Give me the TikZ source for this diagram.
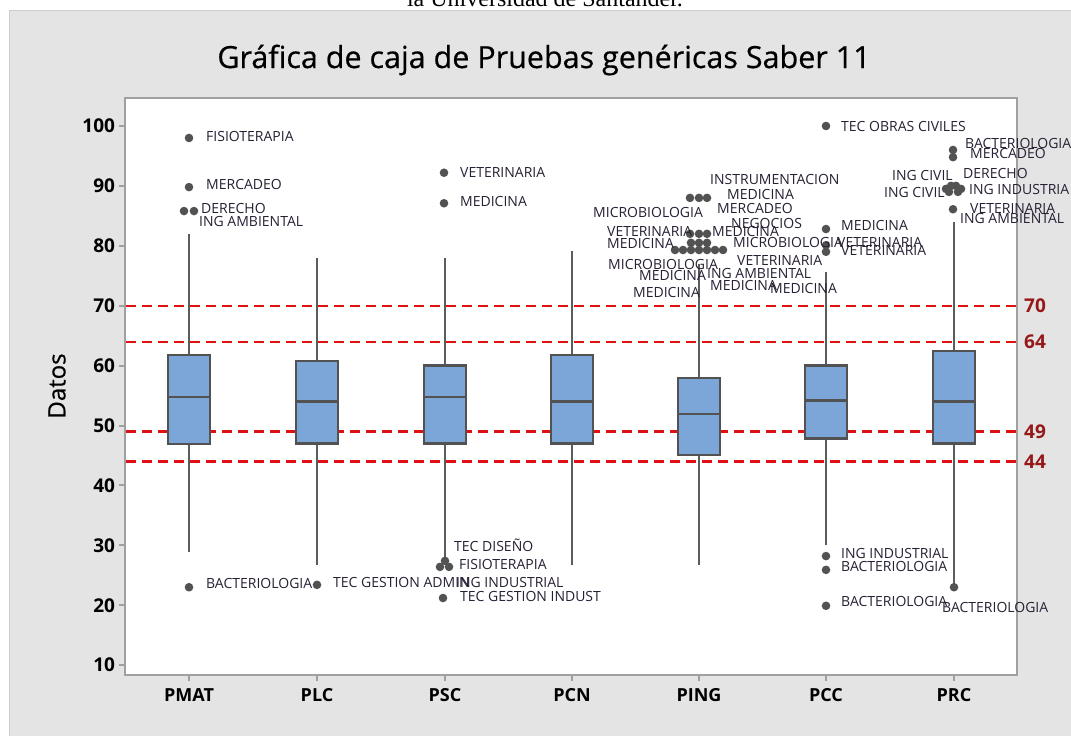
\documentclass[tikz,border=0pt]{standalone}
\usepackage{fontspec}
\setmainfont{Open Sans}
\newfontfamily\headserif{Liberation Serif}
\newfontfamily\heavysans{Open Sans}[FakeBold=0.5]
\usepackage{tikz}
\usetikzlibrary{
  backgrounds,  % Predefined layer named "background"
}
% Colours
\definecolor{panelgray}{RGB}{228,228,228}
\definecolor{panelline}{RGB}{206,206,206}
\definecolor{framegray}{RGB}{160,160,160}
\definecolor{boxblue}{RGB}{124,166,216}
\definecolor{boxline}{RGB}{82,82,82}
\definecolor{whiskgray}{RGB}{92,92,92}
\definecolor{refred}{RGB}{222,16,16}
\definecolor{reftext}{RGB}{150,24,24}
\definecolor{labtext}{RGB}{40,32,52}
\def\mybw{21}     % half width of a box
\def\mydot{4.3pt} % radius of an outlier dot
\newcommand{\labsize}{\fontsize{14}{15}\selectfont}
\tikzset{
  panel/.style={
    fill=panelgray,
    draw=panelline,
    line width=1pt
  },
  frame/.style={
    fill=white,
    draw=framegray,
    line width=2pt
  },
  caption/.style={
    anchor=base,
    inner sep=0pt,
    font=\headserif\fontsize{24}{24}\selectfont
  },
  title/.style={
    inner sep=0pt,
    font=\heavysans\fontsize{30.5}{32}\selectfont
  },
  axtitle/.style={
    rotate=90,
    inner sep=0pt,
    font=\heavysans\fontsize{24}{25}\selectfont
  },
  tick/.style={
    draw=framegray,
    line width=2pt
  },
  ticklab/.style={
    anchor=east,
    inner sep=3pt,
    font=\fontsize{19}{20}\selectfont\bfseries
  },
  catlab/.style={
    inner sep=0pt,
    font=\fontsize{18}{20}\selectfont\bfseries
  },
  refline/.style={
    draw=refred,
    line width=2.2pt,
    dash pattern=on 10pt off 6pt
  },
  reflab/.style={
    anchor=west,
    inner sep=0pt,
    text=reftext,
    font=\fontsize{19}{20}\selectfont\bfseries
  },
  whisk/.style={
    draw=whiskgray,
    line width=2pt
  },
  qbox/.style={
    fill=boxblue,
    draw=boxline,
    line width=2.5pt
  },
  odot/.style={
    fill=boxline
  },
  olab/.style={
    anchor=west,
    inner sep=0pt,
    text=labtext,
    text height=10pt,
    text depth=0pt,
    font=\labsize
  }
}
% Box with whiskers: x, low, Q1, median, Q3, high
\newcommand{\bplot}[6]{
  \draw[whisk] (#1,#2) -- (#1,#3) (#1,#5) -- (#1,#6);
  \draw[qbox] (#1-\mybw,#3) rectangle (#1+\mybw,#5);
  \draw[qbox] (#1-\mybw,#4) -- (#1+\mybw,#4);
}
% Outlier dot: x, value
\newcommand{\od}[2]{\fill[odot] (#1,#2) circle[radius=\mydot];}

\begin{document}
\begin{tikzpicture}[x=1pt,y=-1pt]
\useasboundingbox (0,0) rectangle (1071,736);
% Caption line, cut off at the top
\node[caption] (cap) at (545,6) {la Universidad de Santander.};
% Panel, frame and titles
\draw[panel] (9.5,10.5) rectangle (1080,745);
\draw[frame] (125,98) rectangle (1017,675);
\node[title] (ttl) at (544,60) {Gráfica de caja de Pruebas genéricas Saber 11};
\node[axtitle] (ytl) at (57,386) {Datos};
\begin{scope}[yshift=-725pt,y=5.99pt]
  % Axes
  \foreach \v in {10,20,...,100}
    \draw[tick] (125,\v) -- (119,\v) node[ticklab] (t\v) {\v};
  \foreach \n/\xx in {PMAT/189,PLC/317,PSC/445,PCN/572,PING/699,PCC/826,PRC/954}{
    \draw[tick] (\xx,8.35) -- (\xx,7.3);
    \node[catlab] (c\n) at (\xx,5) {\n};
  }
  % Reference lines
  \foreach \r in {70,64,49,44}{
    \draw[refline] (126,\r) -- (1016,\r);
    \node[reflab] (r\r) at (1024,\r) {\r};
  }
  % PMAT
  \bplot{189}{28.9}{46.9}{54.8}{61.8}{82}
  \od{189}{98} \od{189}{89.8} \od{184}{85.8} \od{194}{85.8} \od{189}{23}
  % PLC
  \bplot{317}{26.7}{47}{54}{60.8}{78}
  \od{317}{23.4}
  % PSC
  \bplot{445}{27.9}{47}{54.8}{60}{78}
  \od{444}{92.2} \od{444}{87.1} \od{440}{26.4} \od{449}{26.4} \od{445}{27.4} \od{443}{21.2}
  % PCN
  \bplot{572}{26.7}{47}{54}{61.8}{79.1}
  % PING
  \bplot{699}{26.7}{45.1}{51.9}{57.9}{77}
  \od{690}{88} \od{699}{88} \od{707}{88}
  \od{690}{82} \od{699}{82} \od{707}{82}
  \od{691}{80.5} \od{699}{80.5} \od{707}{80.5}
  \od{675}{79.3} \od{683}{79.3} \od{691}{79.3} \od{699}{79.3} \od{707}{79.3} \od{715}{79.3} \od{723}{79.3}
  % PCC
  \bplot{826}{30}{47.8}{54.2}{60}{75.6}
  \od{826}{100} \od{826}{82.8} \od{826}{80.1} \od{826}{79} \od{826}{28.2} \od{826}{25.9} \od{826}{19.9}
  % PRC
  \bplot{954}{23}{47}{54}{62.4}{84}
  \od{953}{96} \od{953}{94.8} \od{953}{86.1} \od{954}{23}
  \od{946}{89.5} \od{951}{90} \od{956}{90} \od{961}{89.5} \od{949}{89} \od{958}{89}
\end{scope}
% Outlier labels, PMAT
\node[olab] (pmat-a) at (206,136) {FISIOTERAPIA};
\node[olab] (pmat-b) at (206,184) {MERCADEO};
\node[olab] (pmat-c) at (201,208) {DERECHO};
\node[olab] (pmat-d) at (199,221) {ING AMBIENTAL};
\node[olab] (pmat-e) at (206,583) {BACTERIOLOGIA};
% PLC
\node[olab] (plc-a) at (333,582) {TEC GESTION ADMIN};
% PSC
\node[olab] (psc-a) at (460,172) {VETERINARIA};
\node[olab] (psc-b) at (460,201) {MEDICINA};
\node[olab] (psc-c) at (454,546) {TEC DISEÑO};
\node[olab] (psc-d) at (459,564) {FISIOTERAPIA};
\node[olab] (psc-e) at (456,582) {ING INDUSTRIAL};
\node[olab] (psc-f) at (460,596) {TEC GESTION INDUST};
% PING
\node[olab] (ping-a) at (710,179) {INSTRUMENTACION};
\node[olab] (ping-b) at (727,194) {MEDICINA};
\node[olab] (ping-c) at (593,212) {MICROBIOLOGIA};
\node[olab] (ping-d) at (717,208) {MERCADEO};
\node[olab] (ping-e) at (731,223) {NEGOCIOS};
\node[olab] (ping-f) at (607,231) {VETERINARIA};
\node[olab] (ping-g) at (712,231) {MEDICINA};
\node[olab] (ping-h) at (607,243) {MEDICINA};
\node[olab] (ping-i) at (733,242) {MICROBIOLOGIA};
\node[olab] (ping-j) at (608,264) {MICROBIOLOGIA};
\node[olab] (ping-k) at (737,260) {VETERINARIA};
\node[olab] (ping-l) at (639,275) {MEDICINA};
\node[olab] (ping-m) at (707,273) {ING AMBIENTAL};
\node[olab] (ping-n) at (633,292) {MEDICINA};
\node[olab] (ping-o) at (710,285) {MEDICINA};
% PCC
\node[olab] (pcc-a) at (841,126) {TEC OBRAS CIVILES};
\node[olab] (pcc-b) at (841,225) {MEDICINA};
\node[olab] (pcc-c) at (837,242) {VETERINARIA};
\node[olab] (pcc-d) at (841,250) {VETERINARIA};
\node[olab] (pcc-e) at (770,288) {MEDICINA};
\node[olab] (pcc-f) at (841,553) {ING INDUSTRIAL};
\node[olab] (pcc-g) at (841,566) {BACTERIOLOGIA};
\node[olab] (pcc-h) at (841,601) {BACTERIOLOGIA};
% PRC
\node[olab] (prc-a) at (965,143) {BACTERIOLOGIA};
\node[olab] (prc-b) at (970,153) {MERCADEO};
\node[olab] (prc-c) at (892,175) {ING CIVIL};
\node[olab] (prc-d) at (963,173) {DERECHO};
\node[olab] (prc-e) at (884,192) {ING CIVIL};
\node[olab] (prc-f) at (969,189) {ING INDUSTRIA};
\node[olab] (prc-g) at (970,208) {VETERINARIA};
\node[olab] (prc-h) at (960,218) {ING AMBIENTAL};
\node[olab] (prc-i) at (942,607) {BACTERIOLOGIA};
\end{tikzpicture}
\end{document}
